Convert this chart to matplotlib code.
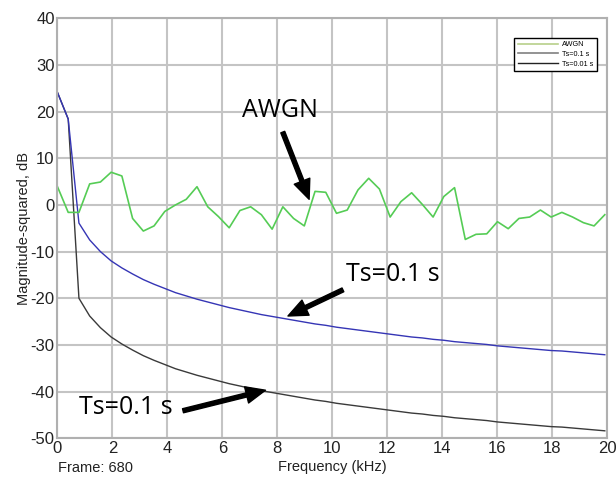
import numpy as np
import matplotlib
matplotlib.use('Agg')
import matplotlib.pyplot as plt
from matplotlib.lines import Line2D

# frequency bins (kHz), 52 points from 0 to ~19.9
freq_khz = np.arange(52) * 0.390625

awgn_db = [3.9, -1.6, -1.6, 4.5, 4.9, 7.0, 6.2, -2.9, -5.6, -4.5,
           -1.4, 0.0, 1.2, 3.9, -0.4, -2.5, -4.9, -1.2, -0.4, -2.1,
           -5.2, -0.4, -2.9, -4.5, 2.9, 2.7, -1.8, -1.1, 3.2, 5.7,
           3.4, -2.6, 0.7, 2.6, 0.1, -2.6, 1.8, 3.7, -7.4, -6.3,
           -6.2, -3.6, -5.1, -2.9, -2.6, -1.1, -2.6, -1.6, -2.6, -3.8,
           -4.5, -2.1]

ts01_db = [24.1, 18.4, -3.9, -7.5, -10.0, -12.0, -13.5, -14.8, -16.0, -17.0,
           -17.9, -18.8, -19.5, -20.2, -20.8, -21.4, -22.0, -22.5, -23.0, -23.5,
           -23.9, -24.3, -24.7, -25.1, -25.5, -25.8, -26.2, -26.5, -26.8, -27.1,
           -27.4, -27.7, -28.0, -28.3, -28.5, -28.8, -29.0, -29.3, -29.5, -29.7,
           -29.9, -30.2, -30.4, -30.6, -30.8, -31.0, -31.2, -31.3, -31.5, -31.7,
           -31.9, -32.1]

ts001_db = [24.1, 18.4, -20.0, -23.8, -26.3, -28.3, -29.8, -31.1, -32.3, -33.3,
            -34.2, -35.1, -35.8, -36.5, -37.1, -37.7, -38.3, -38.8, -39.3, -39.8,
            -40.2, -40.6, -41.0, -41.4, -41.8, -42.1, -42.5, -42.8, -43.1, -43.4,
            -43.7, -44.0, -44.3, -44.6, -44.8, -45.1, -45.3, -45.6, -45.8, -46.0,
            -46.2, -46.5, -46.7, -46.9, -47.1, -47.3, -47.5, -47.6, -47.8, -48.0,
            -48.2, -48.4]

legend_labels = ['AWGN', 'Ts=0.1 s', 'Ts=0.01 s']

plt.rcParams['font.family'] = ['Liberation Sans', 'DejaVu Sans']
plt.rcParams['axes.unicode_minus'] = False

fig = plt.figure(figsize=(6.16, 4.79), dpi=100)
ax = fig.add_axes([0.0933, 0.085, 0.892, 0.877])

ax.plot(freq_khz, ts001_db, color='#3a3a3a', lw=1.0)
ax.plot(freq_khz, ts01_db, color='#3535b5', lw=1.0)
ax.plot(freq_khz, awgn_db, color='#55cc55', lw=1.2)

ax.set_xlim(0, 20)
ax.set_ylim(-50, 40)
ax.set_xticks(np.arange(0, 21, 2))
ax.set_yticks(np.arange(-50, 41, 10))
ax.grid(True, color='#c4c4c4', lw=1.5)
ax.tick_params(length=0, labelsize=12, colors='#222222', pad=2)
for sp in ax.spines.values():
    sp.set_color('#b0b0b0')
    sp.set_linewidth(1.5)

ax.set_xlabel('Frequency (kHz)', fontsize=10.5, color='#222222', labelpad=3)
ax.set_ylabel('Magnitude-squared, dB', fontsize=10.5, color='#222222', labelpad=0)
fig.text(0.094, 0.015, 'Frame: 680', fontsize=10.5, color='#222222')

# legend (colours as shown in the original legend box)
handles = [Line2D([], [], color='#b8d08a', lw=1.2),
           Line2D([], [], color='#808080', lw=1.2),
           Line2D([], [], color='#222222', lw=1.0)]
leg = ax.legend(handles, legend_labels, loc='upper right', fontsize=5.2,
                bbox_to_anchor=(0.988, 0.962), fancybox=False, framealpha=1,
                handlelength=5.5, handletextpad=0.6, borderpad=0.5,
                labelspacing=0.35)
leg.get_frame().set_edgecolor('black')
leg.get_frame().set_linewidth(1.0)

# annotations
afont = dict(fontsize=18, family=['Open Sans', 'DejaVu Sans'], color='black')
arrow = dict(facecolor='black', edgecolor='black', width=3, headwidth=12,
             headlength=14, shrink=0)
ax.text(8.09, 20.3, 'AWGN', ha='center', va='center', **afont)
ax.annotate('', xy=(9.16, 1.2), xytext=(8.2, 15.6), arrowprops=arrow)
ax.annotate('', xy=(8.39, -23.8), xytext=(10.39, -18.2), arrowprops=arrow)
ax.text(10.5, -15.0, 'Ts=0.1 s', ha='left', va='center', **afont)
ax.annotate('', xy=(7.57, -39.7), xytext=(4.57, -44.1), arrowprops=arrow)
ax.text(0.8, -43.5, 'Ts=0.1 s', ha='left', va='center', **afont)

fig.savefig('out.png', dpi=100)
